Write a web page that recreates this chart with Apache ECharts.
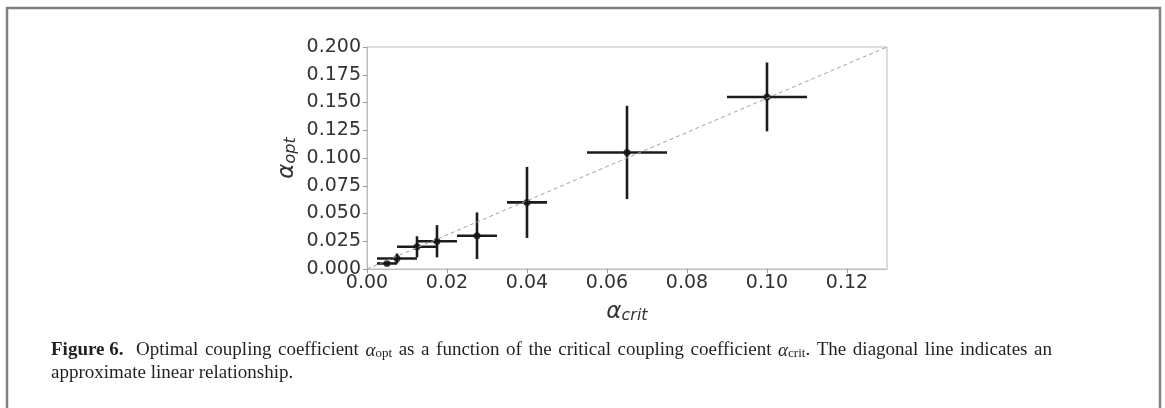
<!DOCTYPE html>
<html>
<head>
<meta charset="utf-8">
<script src="https://cdn.jsdelivr.net/npm/echarts@6/dist/echarts.min.js"></script>
<style>
html,body{margin:0;padding:0;background:#fff;}
#chart{width:1165px;height:408px;}
</style>
</head>
<body>
<div id="chart"></div>
<script>
// Data
const alphaCrit = [0.005, 0.0075, 0.0125, 0.0175, 0.0275, 0.04, 0.065, 0.10];
const alphaOpt  = [0.005, 0.0095, 0.02, 0.025, 0.03, 0.06, 0.105, 0.155];
const xErr      = [0.0025, 0.005, 0.005, 0.005, 0.005, 0.005, 0.01, 0.01];
const yErr      = [0.0015, 0.0045, 0.0095, 0.0145, 0.021, 0.032, 0.042, 0.031];
const diagonal  = [[0, 0], [0.13, 0.2]];
const xTicks = [0, 0.02, 0.04, 0.06, 0.08, 0.10, 0.12];
const yTicks = [0, 0.025, 0.05, 0.075, 0.1, 0.125, 0.15, 0.175, 0.2];

const captionLead = 'Figure 6.';
// caption words of line 1 (justified); [main, subscript, trailing]
const captionWords = [['Optimal'], ['coupling'], ['coefficient'], ['α', 'opt'], ['as'], ['a'], ['function'], ['of'], ['the'],
  ['critical'], ['coupling'], ['coefficient'], ['α', 'crit', '.'], ['The'], ['diagonal'], ['line'], ['indicates'], ['an']];
const captionLine2 = 'approximate linear relationship.';

const points = alphaCrit.map((x, i) => [x, alphaOpt[i]]);
const errData = alphaCrit.map((x, i) => [x, alphaOpt[i], xErr[i], yErr[i]]);

// ---- caption justification (text measuring only) ----
const CAP_SIZE = 19, SUB_SIZE = 13;
const capLeft = 51, capRight = 1052;
const mctx = document.createElement('canvas').getContext('2d');
function tw(text, font) { mctx.font = font; return mctx.measureText(text).width; }
const fN = CAP_SIZE + 'px "Liberation Serif"';
const fB = 'bold ' + CAP_SIZE + 'px "Liberation Serif"';
const fI = 'italic ' + CAP_SIZE + 'px "Liberation Serif"';
const fS = SUB_SIZE + 'px "Liberation Serif"';
function wordWidth(w) {
  if (w.length === 1) return tw(w[0], fN);
  let s = tw(w[0], fI) + tw(w[1], fS);
  if (w[2]) s += tw(w[2], fN);
  return s;
}
const leadW = tw(captionLead, fB);
let sumW = leadW;
captionWords.forEach(w => sumW += wordWidth(w));
const extraLead = 6;
const gap = Math.max(4.5, (capRight - capLeft - sumW - extraLead) / captionWords.length);
let rich1 = '{b|' + captionLead + '}{g0| }';
captionWords.forEach((w, i) => {
  if (w.length === 1) rich1 += '{n|' + w[0] + '}';
  else { rich1 += '{a|' + w[0] + '}{s|' + w[1] + '}'; if (w[2]) rich1 += '{n|' + w[2] + '}'; }
  if (i < captionWords.length - 1) rich1 += '{g| }';
});

const chart = echarts.init(document.getElementById('chart'), null, {renderer: 'canvas'});
const labelColor = '#333333';
const frameColor = '#bdbdbd';
const capColor = '#231f20';

const nameRich = {
  a: {fontFamily: 'DejaVu Sans', fontStyle: 'italic', fontSize: 23, color: labelColor, lineHeight: 27, verticalAlign: 'bottom'},
  s: {fontFamily: 'DejaVu Sans', fontStyle: 'italic', fontSize: 16, color: labelColor, lineHeight: 17, verticalAlign: 'bottom'}
};

const option = {
  animation: false,
  backgroundColor: '#ffffff',
  grid: {left: 367, top: 47, right: 278, bottom: 139, show: true, borderColor: frameColor, borderWidth: 1, backgroundColor: 'transparent'},
  xAxis: {
    type: 'value', min: 0, max: 0.13, interval: 0.02,
    splitLine: {show: false},
    axisLine: {show: true, onZero: false, lineStyle: {color: frameColor, width: 1}},
    axisTick: {show: true, length: 4, lineStyle: {color: '#9a9a9a'}},
    axisLabel: {showMaxLabel: false, color: labelColor, fontSize: 19, fontFamily: 'DejaVu Sans', margin: 5,
      formatter: v => v.toFixed(2)},
    name: '{a|α}{s|crit}', nameLocation: 'middle', nameGap: 28,
    nameTextStyle: {rich: nameRich}
  },
  yAxis: {
    type: 'value', min: 0, max: 0.2, interval: 0.025,
    splitLine: {show: false},
    axisLine: {show: true, onZero: false, lineStyle: {color: frameColor, width: 1}},
    axisTick: {show: true, length: 4, lineStyle: {color: '#9a9a9a'}},
    axisLabel: {color: labelColor, fontSize: 19, fontFamily: 'DejaVu Sans', margin: 6,
      formatter: v => v.toFixed(3)},
    name: '{a|α}{s|opt}', nameLocation: 'middle', nameGap: 68, nameRotate: 90,
    nameTextStyle: {rich: nameRich}
  },
  series: [
    {
      type: 'line', data: diagonal, symbol: 'none', silent: true,
      lineStyle: {color: '#a0a0a0', width: 1, type: [4, 3]}
    },
    {
      type: 'custom', data: errData, silent: true,
      renderItem: function (params, api) {
        const x = api.value(0), y = api.value(1), xe = api.value(2), ye = api.value(3);
        const l = api.coord([x - xe, y]), r = api.coord([x + xe, y]);
        const t = api.coord([x, y + ye]), b = api.coord([x, y - ye]);
        const st = {stroke: '#1c1c1c', lineWidth: 2.6};
        return {type: 'group', children: [
          {type: 'line', shape: {x1: l[0], y1: l[1], x2: r[0], y2: r[1]}, style: st},
          {type: 'line', shape: {x1: t[0], y1: t[1], x2: b[0], y2: b[1]}, style: st}
        ]};
      }
    },
    {
      type: 'scatter', data: points, symbol: 'circle', symbolSize: 7,
      itemStyle: {color: '#111111'}, silent: true
    }
  ],
  graphic: [
    {type: 'polyline', silent: true, shape: {points: [[7, 408], [7, 8], [1160, 8], [1160, 408]]},
      style: {stroke: '#808080', lineWidth: 2.5, fill: null}},
    {type: 'text', left: capLeft, top: 341, silent: true, style: {
      text: rich1,
      rich: {
        b: {fontFamily: 'Liberation Serif', fontWeight: 'bold', fontSize: CAP_SIZE, fill: capColor, lineHeight: 22, verticalAlign: 'bottom'},
        n: {fontFamily: 'Liberation Serif', fontSize: CAP_SIZE, fill: capColor, lineHeight: 22, verticalAlign: 'bottom'},
        a: {fontFamily: 'Liberation Serif', fontStyle: 'italic', fontSize: CAP_SIZE, fill: capColor, lineHeight: 22, verticalAlign: 'bottom'},
        s: {fontFamily: 'Liberation Serif', fontSize: SUB_SIZE, fill: capColor, lineHeight: 12, verticalAlign: 'bottom'},
        g: {fontFamily: 'Liberation Serif', fontSize: CAP_SIZE, width: gap, lineHeight: 22, verticalAlign: 'bottom'},
        g0: {fontFamily: 'Liberation Serif', fontSize: CAP_SIZE, width: gap + extraLead, lineHeight: 22, verticalAlign: 'bottom'}
      }
    }},
    {type: 'text', left: capLeft, top: 364, silent: true, style: {
      text: captionLine2,
      font: CAP_SIZE + 'px "Liberation Serif"', fill: capColor
    }}
  ]
};
chart.setOption(option);
</script>
</body>
</html>
